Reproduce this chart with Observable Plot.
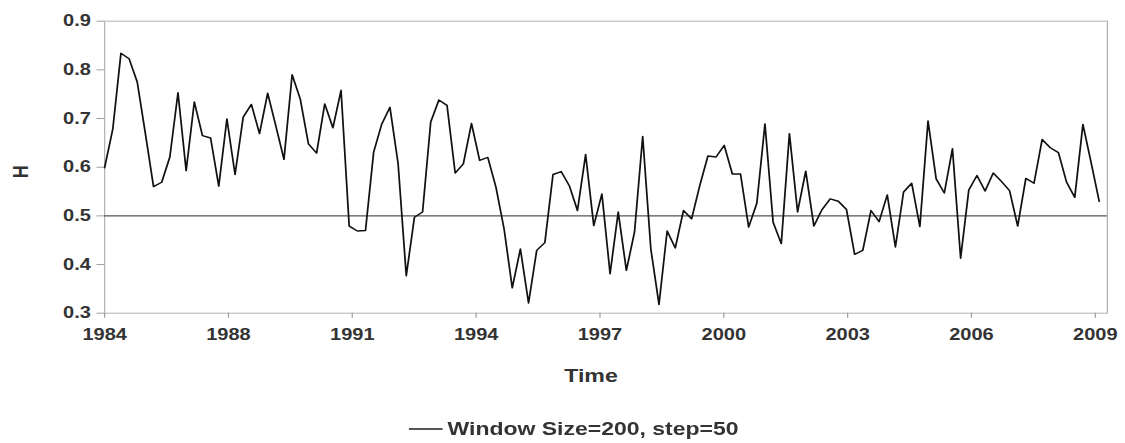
<!DOCTYPE html>
<html>
<head>
<meta charset="utf-8">
<script src="https://cdn.jsdelivr.net/npm/d3@7"></script>
<script src="https://cdn.jsdelivr.net/npm/@observablehq/plot@0.6"></script>
<style>
  html, body { margin: 0; padding: 0; background: #fff; }
  /* chart is laid out at 900px and widened to the 1125px page */
  #chart {
    position: relative;
    width: 900px;
    height: 443px;
    transform: scaleX(1.25);
    transform-origin: 0 0;
    font-family: "Liberation Sans", Arial, sans-serif;
    font-weight: bold;
    color: #333;
  }
  #legend {
    position: absolute;
    left: 327px;
    top: 418px;
    display: flex;
    align-items: center;
    font-size: 18.4px;
    white-space: nowrap;
  }
  #legend .swatch {
    width: 27px;
    height: 0;
    border-top: 2px solid #555;
    margin-right: 4px;
  }
</style>
</head>
<body>
<div id="chart">
  <div id="legend"><span class="swatch"></span><span>Window Size=200, step=50</span></div>
</div>
<script>
// Hurst exponent per sliding window (window size 200, step 50)
const H = [
  0.599, 0.678, 0.834, 0.823, 0.775, 0.669, 0.560, 0.569, 0.621, 0.753,
  0.593, 0.734, 0.665, 0.660, 0.561, 0.699, 0.585, 0.703, 0.729, 0.669,
  0.752, 0.685, 0.616, 0.790, 0.740, 0.648, 0.629, 0.730, 0.681, 0.758,
  0.479, 0.469, 0.470, 0.631, 0.689, 0.723, 0.607, 0.377, 0.497, 0.508,
  0.693, 0.738, 0.727, 0.588, 0.607, 0.690, 0.614, 0.620, 0.559, 0.473,
  0.352, 0.432, 0.321, 0.429, 0.445, 0.585, 0.591, 0.562, 0.511, 0.626,
  0.480, 0.545, 0.381, 0.508, 0.388, 0.467, 0.663, 0.432, 0.318, 0.469,
  0.434, 0.511, 0.494, 0.562, 0.623, 0.621, 0.645, 0.586, 0.586, 0.477,
  0.526, 0.689, 0.487, 0.443, 0.669, 0.508, 0.592, 0.479, 0.513, 0.535,
  0.530, 0.513, 0.421, 0.429, 0.511, 0.488, 0.543, 0.436, 0.549, 0.567,
  0.478, 0.695, 0.576, 0.547, 0.638, 0.413, 0.553, 0.583, 0.551, 0.588,
  0.571, 0.552, 0.479, 0.577, 0.567, 0.657, 0.640, 0.630, 0.569, 0.538,
  0.688, 0.610, 0.530
];

// Time axis labels, one every tickStep windows
const timeLabels = ["1984", "1988", "1991", "1994", "1997", "2000", "2003", "2006", "2009"];
const tickStep = 15.19;

// H axis ticks
const hTicks = [0.3, 0.4, 0.5, 0.6, 0.7, 0.8, 0.9];

// reference level H = 0.5
const reference = [0.5];

const points = H.map((h, i) => ({window: i, h}));
const tickPositions = timeLabels.map((_, k) => k * tickStep);
const labelAt = new Map(tickPositions.map((p, k) => [p, timeLabels[k]]));

const chart = Plot.plot({
  width: 900,
  height: 400,
  marginLeft: 83.2,
  marginRight: 14.6,
  marginTop: 20.7,
  marginBottom: 87.3,
  style: {
    fontFamily: "'Liberation Sans', Arial, sans-serif",
    fontWeight: "bold",
    fontSize: "16px",
    color: "#333",
    background: "white",
    overflow: "visible"
  },
  x: {domain: [0, 123], axis: null},
  y: {domain: [0.3, 0.9], axis: null},
  marks: [
    Plot.frame({stroke: "#b3b3b3"}),
    Plot.axisY({
      ticks: hTicks,
      tickFormat: d => d.toFixed(1),
      tickSize: 6,
      tickPadding: 5,
      stroke: "#a0a0a0",
      fill: "#333",
      fontSize: 16,
      label: null
    }),
    Plot.axisX({
      ticks: tickPositions,
      tickFormat: d => labelAt.get(d),
      tickSize: 5,
      tickPadding: 10,
      stroke: "#a0a0a0",
      fill: "#333",
      fontSize: 16,
      label: null
    }),
    Plot.ruleY(reference, {stroke: "#555", strokeWidth: 1.2}),
    Plot.line(points, {x: "window", y: "h", stroke: "#111", strokeWidth: 1.4}),
    Plot.text(["Time"], {frameAnchor: "bottom", dx: -12, dy: 69, fontSize: 18.5, fontWeight: "bold", fill: "#333"}),
    Plot.text(["H"], {frameAnchor: "left", dx: -66.8, dy: 11, rotate: -90, fontSize: 18, fontWeight: "bold", fill: "#333"})
  ]
});

document.getElementById("chart").prepend(chart);
</script>
</body>
</html>
